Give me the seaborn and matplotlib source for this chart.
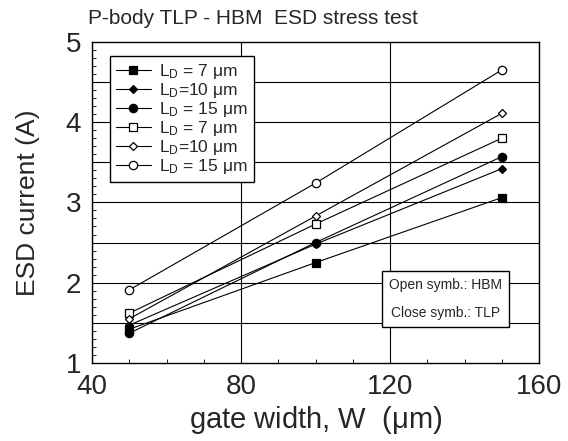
import pandas as pd
import numpy as np
import seaborn as sns
import matplotlib.pyplot as plt
from matplotlib.ticker import MultipleLocator

# gate widths (um)
widths = [50, 100, 150]

# ESD current (A)
tlp_7 = [1.42, 2.25, 3.06]
tlp_10 = [1.47, 2.48, 3.42]
tlp_15 = [1.37, 2.50, 3.57]
hbm_7 = [1.62, 2.73, 3.80]
hbm_10 = [1.55, 2.83, 4.11]
hbm_15 = [1.91, 3.24, 4.65]

labels = [r"L$_\mathrm{D}$ = 7 $\mu$m", r"L$_\mathrm{D}$=10 $\mu$m", r"L$_\mathrm{D}$ = 15 $\mu$m",
          r"L$_\mathrm{D}$ = 7 $\mu$m", r"L$_\mathrm{D}$=10 $\mu$m", r"L$_\mathrm{D}$ = 15 $\mu$m"]
series = [tlp_7, tlp_10, tlp_15, hbm_7, hbm_10, hbm_15]
markers = ["s", "D", "o", "s", "D", "o"]
msizes = [6, 4, 6, 6, 4, 6]
filled = [True, True, True, False, False, False]

rows = []
for k, vals in enumerate(series):
    for w, v in zip(widths, vals):
        rows.append({"sid": k, "W": w, "I": v})
df = pd.DataFrame(rows)

sns.set_style("ticks")
plt.rcParams['font.family'] = ['Liberation Sans', 'DejaVu Sans']
plt.rcParams['mathtext.fontset'] = 'custom'
plt.rcParams['mathtext.rm'] = 'Liberation Sans'
plt.rcParams['mathtext.it'] = 'Liberation Sans'

fig = plt.figure(figsize=(5.68, 4.41), dpi=100)
ax = fig.add_axes([0.162, 0.177, 0.787, 0.728])

for i, lab in enumerate(labels):
    sub = df[df["sid"] == i]
    sns.lineplot(data=sub, x="W", y="I", ax=ax, color="black", linewidth=0.8,
                 marker=markers[i], markersize=msizes[i], errorbar=None,
                 markerfacecolor="black" if filled[i] else "white",
                 markeredgecolor="black", markeredgewidth=0.9, label=lab)

ax.set_xlim(40, 160)
ax.set_ylim(1, 5)
ax.xaxis.set_major_locator(MultipleLocator(40))
ax.xaxis.set_minor_locator(MultipleLocator(10))
ax.yaxis.set_major_locator(MultipleLocator(1))
ax.yaxis.set_minor_locator(MultipleLocator(0.1))

# grid: vertical at majors, horizontal every 0.5
ax.grid(axis="x", which="major", color="black", linewidth=0.8)
for yy in np.arange(1.5, 5, 0.5):
    ax.axhline(yy, color="black", linewidth=0.8, zorder=0.5)

ax.tick_params(which="both", direction="in", labelsize=20, color="black")
ax.tick_params(which="major", length=0)
ax.tick_params(axis="x", which="major", pad=8)
ax.tick_params(axis="y", which="major", pad=8)
ax.tick_params(which="minor", length=3, width=0.6)
for s in ax.spines.values():
    s.set_linewidth(1.0)
    s.set_color("black")

ax.set_xlabel(r"gate width, W  ($\mu$m)", fontsize=21, labelpad=3)
ax.set_ylabel("ESD current (A)", fontsize=19, labelpad=18)
fig.text(0.155, 0.945, "P-body TLP - HBM  ESD stress test", fontsize=15)

leg = ax.legend(loc="upper left", bbox_to_anchor=(0.04, 0.956), fontsize=12.5,
                frameon=True, fancybox=False, edgecolor="black", framealpha=1,
                handlelength=2.0, handletextpad=0.5, labelspacing=0.0,
                borderpad=0.35, borderaxespad=0)
leg.get_frame().set_linewidth(1.0)

ax.text(0.79, 0.2, "Open symb.: HBM\n\nClose symb.: TLP", transform=ax.transAxes,
        ha="center", va="center", fontsize=10, linespacing=1.0,
        bbox=dict(boxstyle="square,pad=0.5", facecolor="white", edgecolor="black", linewidth=1.0))

fig.savefig("out.png", dpi=100)
